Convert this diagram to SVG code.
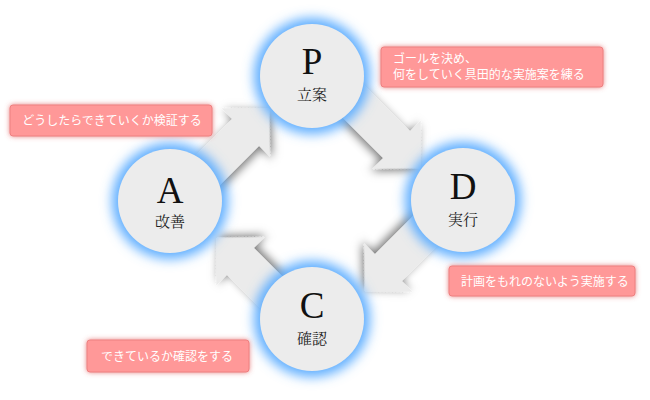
<svg xmlns="http://www.w3.org/2000/svg" width="650" height="400" viewBox="0 0 650 400">
<defs>
<style>
.arrow{fill:#ebebeb;filter:url(#ashadow)}
.glow{fill:#5eaeff;filter:url(#blueglow)}
.disc{fill:#ececec}
.letter{font-family:"Liberation Serif","Noto Serif CJK JP",serif;font-size:37px;fill:#111;text-anchor:middle}
.kanji{font-family:"Noto Serif CJK JP","Noto Sans CJK JP",serif;font-size:15px;fill:#222;text-anchor:middle}
.box{fill:#ff9898;stroke:#ee8080;stroke-width:1;filter:url(#redglow)}
.note{font-family:"Noto Sans CJK JP","Liberation Sans",sans-serif;font-size:12px;fill:#ffffff}
</style>
<filter id="ashadow" x="-30%" y="-30%" width="160%" height="160%">
<feGaussianBlur in="SourceAlpha" stdDeviation="5"/>
<feOffset dx="0" dy="3" result="b"/>
<feFlood flood-color="#000" flood-opacity="0.55"/>
<feComposite in2="b" operator="in"/>
<feMerge><feMergeNode/><feMergeNode in="SourceGraphic"/></feMerge>
</filter>
<filter id="blueglow" x="-40%" y="-40%" width="180%" height="180%">
<feGaussianBlur stdDeviation="6"/>
</filter>
<filter id="redglow" x="-20%" y="-50%" width="140%" height="200%">
<feGaussianBlur in="SourceAlpha" stdDeviation="2.5" result="bl"/>
<feFlood flood-color="#e05a5a" flood-opacity="0.75"/>
<feComposite in2="bl" operator="in"/>
<feMerge><feMergeNode/><feMergeNode in="SourceGraphic"/></feMerge>
</filter>
</defs>
<rect width="650" height="400" fill="#ffffff"/>

<g id="connectors">
<path class="arrow" transform="translate(269,109) rotate(-45)" d="M0,0 L-33,-34 L-33,-19 L-122,-19 L-122,19 L-33,19 L-33,34 Z"/>
<path class="arrow" transform="translate(420,168) rotate(45)" d="M0,0 L-33,-34 L-33,-19 L-128,-19 L-128,19 L-33,19 L-33,34 Z"/>
<path class="arrow" transform="translate(365,291) rotate(135)" d="M0,0 L-33,-34 L-33,-19 L-122,-19 L-122,19 L-33,19 L-33,34 Z"/>
<path class="arrow" transform="translate(217,238) rotate(-135)" d="M0,0 L-33,-34 L-33,-19 L-115,-19 L-115,19 L-33,19 L-33,34 Z"/>
</g>

<g id="node-P">
<circle class="glow" cx="312" cy="76" r="58"/>
<circle class="disc" cx="312" cy="76" r="52"/>
<text class="letter" x="312" y="74">P</text>
<text class="kanji" x="312" y="100">立案</text>
</g>
<g id="node-D">
<circle class="glow" cx="463" cy="200" r="58"/>
<circle class="disc" cx="463" cy="200" r="52"/>
<text class="letter" x="463" y="199">D</text>
<text class="kanji" x="463" y="225">実行</text>
</g>
<g id="node-C">
<circle class="glow" cx="312" cy="319" r="58"/>
<circle class="disc" cx="312" cy="319" r="52"/>
<text class="letter" x="312" y="318">C</text>
<text class="kanji" x="312" y="344">確認</text>
</g>
<g id="node-A">
<circle class="glow" cx="170" cy="201" r="58"/>
<circle class="disc" cx="170" cy="201" r="52"/>
<text class="letter" x="170" y="203">A</text>
<text class="kanji" x="170" y="227">改善</text>
</g>

<g id="note-P">
<rect class="box" x="381" y="47" width="222" height="40" rx="3"/>
<text class="note" x="393" y="63">ゴールを決め、</text>
<text class="note" x="393" y="79">何をしていく具田的な実施案を練る</text>
</g>
<g id="note-A">
<rect class="box" x="10" y="105" width="202" height="31" rx="3"/>
<text class="note" x="112" y="125" text-anchor="middle">どうしたらできていくか検証する</text>
</g>
<g id="note-D">
<rect class="box" x="449" y="266" width="186" height="30" rx="3"/>
<text class="note" x="545" y="286" text-anchor="middle">計画をもれのないよう実施する</text>
</g>
<g id="note-C">
<rect class="box" x="87" y="340" width="162" height="32" rx="3"/>
<text class="note" x="167" y="361" text-anchor="middle">できているか確認をする</text>
</g>
</svg>
